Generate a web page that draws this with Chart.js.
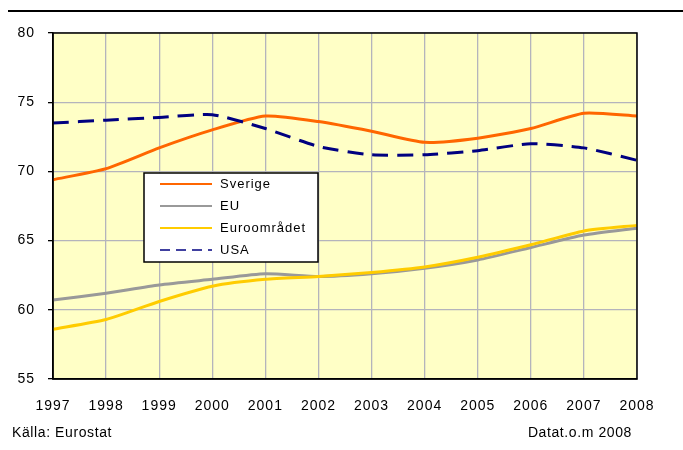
<!DOCTYPE html>
<html>
<head>
<meta charset="utf-8">
<script src="https://cdn.jsdelivr.net/npm/chart.js@4/dist/chart.umd.min.js"></script>
<style>
    body { margin: 0; background: #fff; }
    #wrap { position: relative; width: 683px; height: 450px; }
    #grafik { position: absolute; left: 0; top: 0; }
    #linje { position: absolute; left: 8px; top: 10px; width: 675px; height: 2px; background: #000; }
    .fot { position: absolute; top: 424px; font: 14px "Liberation Sans", Arial, sans-serif; letter-spacing: 0.6px; color: #000; }
</style>
</head>
<body>
<div id="wrap">
    <canvas id="grafik" width="683" height="450"></canvas>
    <div id="linje"></div>
    <div class="fot" style="left:12px">Källa: Eurostat</div>
    <div class="fot" style="right:51px">Datat.o.m 2008</div>
</div>
<script>
const ar = ['1997', '1998', '1999', '2000', '2001', '2002', '2003', '2004', '2005', '2006', '2007', '2008'];
const sverige = [69.4, 70.2, 71.7, 73.0, 74.0, 73.6, 72.9, 72.1, 72.4, 73.1, 74.2, 74.0];
const eu = [60.7, 61.2, 61.8, 62.2, 62.6, 62.4, 62.6, 63.0, 63.6, 64.5, 65.4, 65.9];
const euroomradet = [58.6, 59.3, 60.6, 61.7, 62.2, 62.4, 62.7, 63.1, 63.8, 64.7, 65.7, 66.1];
const usa = [73.5, 73.7, 73.9, 74.1, 73.1, 71.8, 71.2, 71.2, 71.5, 72.0, 71.7, 70.8];
const yTicks = [55, 60, 65, 70, 75, 80];

const fontAxel = { family: '"Liberation Sans", Arial, sans-serif', size: 14 };

// bakgrund och ram för ritytan
const ramPlugin = {
    id: 'ram',
    beforeDraw(chart) {
        const { ctx, chartArea: a } = chart;
        ctx.save();
        ctx.fillStyle = '#ffffc6';
        ctx.fillRect(a.left, a.top, a.right - a.left, a.bottom - a.top);
        ctx.restore();
        ctx.letterSpacing = '1px';
    },
    afterDatasetsDraw(chart) {
        const { ctx, chartArea: a } = chart;
        ctx.save();
        ctx.strokeStyle = '#000';
        ctx.lineWidth = 1.5;
        ctx.strokeRect(a.left, a.top, a.right - a.left, a.bottom - a.top);
        ctx.restore();
    }
};

// egen förklaring inne i diagrammet
const forklaringPlugin = {
    id: 'forklaring',
    afterDraw(chart) {
        const ctx = chart.ctx;
        ctx.save();
        ctx.fillStyle = '#fff';
        ctx.fillRect(144, 173, 174, 89);
        ctx.strokeStyle = '#000';
        ctx.lineWidth = 1.5;
        ctx.strokeRect(144, 173, 174, 89);
        ctx.font = '13px "Liberation Sans", Arial, sans-serif';
        ctx.letterSpacing = '1px';
        ctx.textBaseline = 'middle';
        const rader = [184, 206, 228, 250];
        chart.data.datasets.forEach((ds, i) => {
            const y = rader[i];
            ctx.beginPath();
            ctx.strokeStyle = ds.legendColor || ds.borderColor;
            ctx.lineWidth = 2;
            ctx.setLineDash(ds.borderDash ? [10, 6] : []);
            ctx.moveTo(160, y);
            ctx.lineTo(212, y);
            ctx.stroke();
            ctx.setLineDash([]);
            ctx.fillStyle = '#000';
            ctx.fillText(ds.label, 220, y);
        });
        ctx.restore();
    }
};

new Chart(document.getElementById('grafik'), {
    type: 'line',
    data: {
        labels: ar,
        datasets: [
            { label: 'Sverige', data: sverige, borderColor: '#ff6600', borderWidth: 3, order: 1 },
            { label: 'EU', data: eu, borderColor: '#999999', borderWidth: 3, order: 3 },
            { label: 'Euroområdet', data: euroomradet, borderColor: '#ffcc00', borderWidth: 3, order: 2 },
            { label: 'USA', data: usa, borderColor: '#000080', legendColor: '#4040a0', borderWidth: 3, borderDash: [16, 9], order: 0 }
        ]
    },
    options: {
        responsive: false,
        animation: false,
        elements: {
            point: { radius: 0 },
            line: { tension: 0.2, fill: false, borderCapStyle: 'butt' }
        },
        layout: { padding: { top: 33, right: 46, left: 0, bottom: 0 } },
        plugins: {
            legend: { display: false },
            tooltip: { enabled: false }
        },
        scales: {
            x: {
                grid: { color: '#b4b4bc', lineWidth: 1.3, drawTicks: false },
                border: { color: '#000', width: 1.5 },
                ticks: { color: '#000', font: fontAxel, padding: 19, maxRotation: 0, autoSkip: false },
                afterFit: s => { s.height = 71; }
            },
            y: {
                min: 55,
                max: 80,
                afterBuildTicks: s => { s.ticks = yTicks.map(v => ({ value: v })); },
                grid: { color: '#b4b4bc', lineWidth: 1.3, tickLength: 5, tickColor: '#000' },
                border: { color: '#000', width: 1.5 },
                ticks: { color: '#000', font: fontAxel, padding: 13 },
                afterFit: s => { s.width = 53; }
            }
        }
    },
    plugins: [ramPlugin, forklaringPlugin]
});
</script>
</body>
</html>
